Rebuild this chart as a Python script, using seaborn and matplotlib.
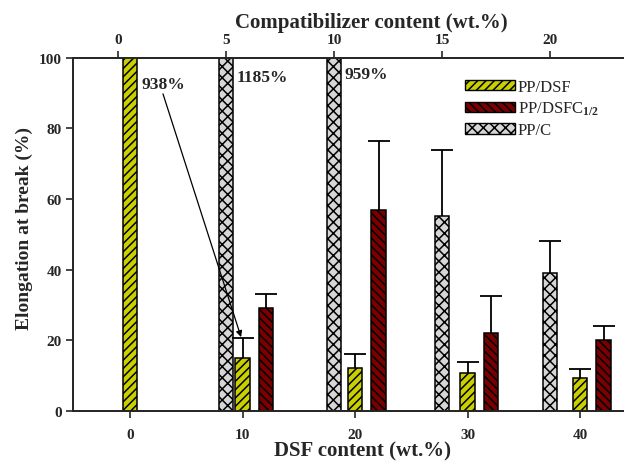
import numpy as np
import matplotlib
matplotlib.use("Agg")
import matplotlib.pyplot as plt
import matplotlib.patches as mpatches
import seaborn as sns

# data (%), values > 100 are clipped by the axis
dsf_content = [0, 10, 20, 30, 40]
pp_dsf = [938, 15.0, 12.2, 10.8, 9.4]
pp_dsf_err = [0, 5.6, 4.0, 3.2, 2.6]

dsfc_content = [10, 20, 30, 40]
pp_dsfc = [29.0, 57.0, 22.0, 20.0]
pp_dsfc_err = [4.0, 19.4, 10.4, 4.0]

compat_content = [5, 10, 15, 20]
pp_c = [1185, 959, 55.2, 39.0]
pp_c_err = [0, 0, 18.5, 9.0]

sns.set_style("ticks")
plt.rcParams["font.family"] = ["Liberation Serif", "DejaVu Serif"]
plt.rcParams["font.weight"] = "bold"
plt.rcParams["mathtext.fontset"] = "custom"
plt.rcParams["mathtext.rm"] = "Liberation Serif:bold"
plt.rcParams["mathtext.it"] = "Liberation Serif:bold"
plt.rcParams["mathtext.bf"] = "Liberation Serif:bold"
plt.rcParams["hatch.linewidth"] = 1.1
plt.rcParams["axes.linewidth"] = 1.3

yellow = "#c9cf00"
red = "#7a0000"
grey = "#d6d6d6"
h_yellow = "////"
h_red = "\\\\\\\\"
h_grey = "xxx"

fig = plt.figure(figsize=(6.24, 4.64), dpi=100)
ax = fig.add_axes([73 / 624, 52 / 464, 557 / 624, 353.5 / 464])
ax2 = ax.twiny()
# keep the main axes (and its texts) above the twin
ax.set_zorder(ax2.get_zorder() + 1)
ax.patch.set_visible(False)

red_shift = 2.1

sns.barplot(x=dsf_content, y=pp_dsf, native_scale=True, orient="x", width=0.13,
            color=yellow, edgecolor="black", linewidth=1.1, hatch=h_yellow,
            saturation=1, ax=ax, zorder=2)
sns.barplot(x=[v + red_shift for v in dsfc_content], y=pp_dsfc, native_scale=True,
            orient="x", width=0.13, color=red, edgecolor="black", linewidth=1.1,
            hatch=h_red, saturation=1, ax=ax, zorder=2)
sns.barplot(x=compat_content, y=pp_c, native_scale=True, orient="x", width=0.13,
            color=grey, edgecolor="black", linewidth=1.1, hatch=h_grey,
            saturation=1, ax=ax2, zorder=2)


def upper_err(a, x, y, err):
    # error bar pointing up only, no cap at the bar top
    _, caps, _ = a.errorbar(x, y, yerr=[np.zeros(len(err)), err], fmt="none",
                            ecolor="black", elinewidth=1.3, capsize=8,
                            capthick=1.3, zorder=3)
    caps[0].set_visible(False)


upper_err(ax, dsf_content[1:], pp_dsf[1:], pp_dsf_err[1:])
upper_err(ax, [v + red_shift for v in dsfc_content], pp_dsfc, pp_dsfc_err)
upper_err(ax2, compat_content[2:], pp_c[2:], pp_c_err[2:])

ax.set_ylim(0, 100)
ax.set_xlim(-5.07, 44.44)
ax2.set_xlim(-2.08, 23.7)
ax.set_yticks([0, 20, 40, 60, 80, 100])
ax.set_xticks(dsf_content)
ax.set_xticklabels([str(v) for v in dsf_content])
ax2.set_xticks([0, 5, 10, 15, 20])
ax2.set_xticklabels(["0", "5", "10", "15", "20"])

for a in (ax, ax2):
    a.tick_params(direction="out", length=5, width=1.2, labelsize=11, pad=3)
    for lab in a.get_xticklabels() + a.get_yticklabels():
        lab.set_fontweight("bold")
ax.tick_params(axis="x", pad=7)
ax.spines["right"].set_visible(False)
ax2.spines["right"].set_visible(False)

ax.set_xlabel("DSF content (wt.%)", fontsize=15, fontweight="bold")
ax.set_ylabel("Elongation at break (%)", fontsize=14, fontweight="bold")
ax2.set_xlabel("Compatibilizer content (wt.%)", fontsize=15, fontweight="bold")
ax.xaxis.set_label_coords(0.519, -0.082)
ax.yaxis.set_label_coords(-0.072, 0.518)
ax2.xaxis.set_label_coords(0.535, 1.085)

# off-scale values
ax.text(0.98, 92.5, "938%", fontsize=12.5, fontweight="bold", va="center")
ax.text(9.5, 94.5, "1185%", fontsize=12.5, fontweight="bold", va="center")
ax.text(19.1, 95.3, "959%", fontsize=12.5, fontweight="bold", va="center")
ax.annotate("", xy=(9.87, 20.9), xytext=(2.93, 89.7),
            arrowprops=dict(arrowstyle="-|>", color="black", lw=0.9,
                            mutation_scale=9, shrinkA=0, shrinkB=0))

handles = [
    mpatches.Patch(facecolor=yellow, edgecolor="black", hatch=h_yellow, label="PP/DSF"),
    mpatches.Patch(facecolor=red, edgecolor="black", hatch=h_red,
                   label=r"PP/DSFC$_{1/2}$"),
    mpatches.Patch(facecolor=grey, edgecolor="black", hatch=h_grey, label="PP/C"),
]
ax.legend(handles=handles, loc="upper left", bbox_to_anchor=(0.704, 0.94),
          frameon=False, handlelength=3.0, handleheight=0.6,
          labelspacing=0.3, handletextpad=0.15, borderpad=0, borderaxespad=0,
          prop={"weight": "normal", "size": 12})

fig.savefig("out.png", dpi=100)
